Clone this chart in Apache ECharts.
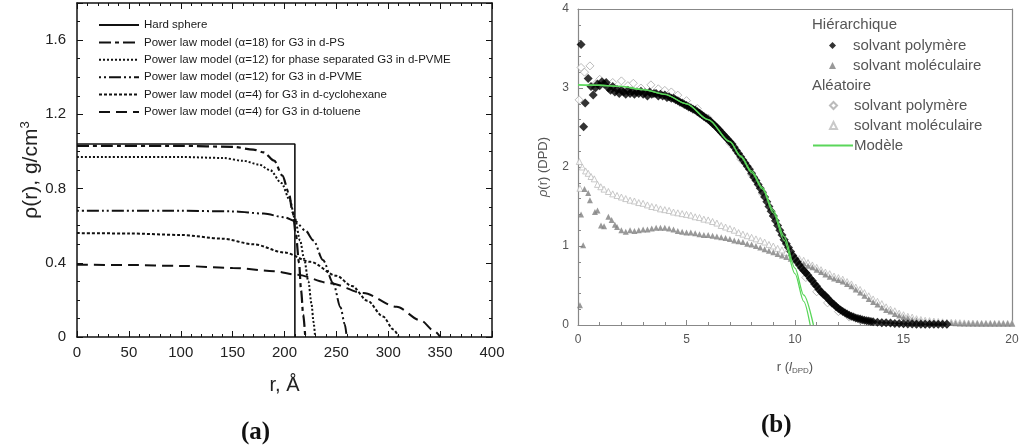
<!DOCTYPE html>
<html>
<head>
<meta charset="utf-8">
<script src="https://cdn.jsdelivr.net/npm/echarts@6/dist/echarts.min.js"></script>
<style>
  html, body { margin: 0; padding: 0; background: #fff; }
  #chart { width: 1026px; height: 447px; }
</style>
</head>
<body>
<div id="chart"></div>
<script>
// ---- panel (a): density profiles rho(r), r in Angstrom ----
const hardSphere = [[0, 1.04], [210, 1.04], [210, 0]]
const psAlpha18 = [[0, 1.03], [100, 1.03], [150, 1.025], [170, 1.01], [180, 0.995], [190, 0.95], [198, 0.87],
  [204, 0.78], [208, 0.67], [211, 0.55], [214, 0.4], [216, 0.25], [218, 0.12], [220, 0]]
const pvmeSepAlpha12 = [[0, 0.97], [100, 0.97], [140, 0.965], [160, 0.95], [175, 0.93], [186, 0.9], [197, 0.83],
  [205, 0.74], [210, 0.64], [215, 0.52], [219, 0.42], [223, 0.3], [226, 0.18], [228, 0.08], [229.5, 0]]
const pvmeAlpha12 = [[0, 0.68], [100, 0.68], [150, 0.677], [180, 0.665], [200, 0.645], [210, 0.625], [220, 0.575],
  [228, 0.52], [237, 0.415], [247, 0.29], [254, 0.16], [258, 0.07], [260, 0]]
const cyclohexaneAlpha4 = [[0, 0.56], [50, 0.558], [100, 0.55], [140, 0.53], [170, 0.5], [200, 0.455], [225, 0.405],
  [250, 0.33], [265, 0.275], [280, 0.195], [295, 0.11], [305, 0.04], [310, 0]]
const tolueneAlpha4 = [[0, 0.39], [50, 0.388], [100, 0.383], [150, 0.372], [190, 0.355], [212, 0.335], [244, 0.29],
  [276, 0.237], [308, 0.163], [331, 0.09], [345, 0.03], [350, 0]]
const namesA = [
  'Hard sphere',
  'Power law model (α=18) for G3 in d-PS',
  'Power law model (α=12) for phase separated G3 in d-PVME',
  'Power law model (α=12) for G3 in d-PVME',
  'Power law model (α=4) for G3 in d-cyclohexane',
  'Power law model (α=4) for G3 in d-toluene',
]

// ---- panel (b): rho(r) in DPD units ----
const hierPoly = [[0.14, 3.55], [0.26, 2.51], [0.33, 2.81], [0.47, 3.12], [0.6, 3.02], [0.7, 2.91], [0.8, 3.0],
  [0.9, 3.05], [1.0, 3.03], [1.1, 3.08], [1.2, 3.05], [1.3, 3.07], [1.4, 3.0], [1.5, 2.97], [1.6, 3.02], [1.7, 2.95],
  [1.8, 2.98], [1.9, 2.93], [2.0, 2.97], [2.1, 2.95], [2.2, 2.92], [2.3, 2.97], [2.4, 2.93], [2.5, 2.96], [2.6, 2.92],
  [2.7, 2.95], [2.8, 2.93], [2.9, 2.96], [3.0, 2.92], [3.1, 2.94], [3.2, 2.9], [3.3, 2.95], [3.4, 2.92], [3.5, 2.93],
  [3.6, 2.93], [3.7, 2.9], [3.8, 2.92], [3.9, 2.9], [4.0, 2.91], [4.1, 2.88], [4.2, 2.89], [4.3, 2.87], [4.4, 2.87],
  [4.5, 2.85], [4.6, 2.84], [4.7, 2.82], [4.8, 2.81], [4.9, 2.79], [5.0, 2.78], [5.1, 2.76], [5.2, 2.75], [5.3, 2.73],
  [5.4, 2.72], [5.5, 2.7], [5.6, 2.68], [5.7, 2.66], [5.8, 2.64], [5.9, 2.62], [6.0, 2.6], [6.1, 2.58], [6.2, 2.55],
  [6.3, 2.53], [6.4, 2.5], [6.5, 2.47], [6.6, 2.44], [6.7, 2.41], [6.8, 2.38], [6.9, 2.35], [7.0, 2.32], [7.1, 2.29],
  [7.2, 2.25], [7.3, 2.21], [7.4, 2.17], [7.5, 2.13], [7.6, 2.09], [7.7, 2.05], [7.8, 2.01], [7.9, 1.97], [8.0, 1.92],
  [8.1, 1.87], [8.2, 1.83], [8.3, 1.78], [8.4, 1.73], [8.5, 1.68], [8.6, 1.62], [8.7, 1.56], [8.8, 1.5], [8.9, 1.44],
  [9.0, 1.38], [9.1, 1.32], [9.2, 1.26], [9.3, 1.2], [9.4, 1.14], [9.5, 1.08], [9.6, 1.03], [9.7, 0.98], [9.8, 0.93],
  [9.9, 0.88], [10.0, 0.84], [10.1, 0.8], [10.2, 0.76], [10.3, 0.72], [10.4, 0.69], [10.5, 0.66], [10.6, 0.63],
  [10.7, 0.59], [10.8, 0.56], [10.9, 0.52], [11.0, 0.49], [11.1, 0.45], [11.2, 0.42], [11.3, 0.39], [11.4, 0.37],
  [11.5, 0.34], [11.6, 0.31], [11.7, 0.28], [11.8, 0.26], [11.9, 0.23], [12.0, 0.21], [12.1, 0.19], [12.2, 0.17],
  [12.3, 0.155], [12.4, 0.14], [12.5, 0.125], [12.6, 0.11], [12.7, 0.1], [12.8, 0.09], [12.9, 0.082], [13.0, 0.075],
  [13.1, 0.068], [13.2, 0.06], [13.3, 0.055], [13.4, 0.05], [13.5, 0.045], [13.6, 0.04], [13.8, 0.035], [14.0, 0.03],
  [14.2, 0.027], [14.4, 0.024], [14.6, 0.02], [14.8, 0.018], [15.0, 0.015], [15.2, 0.014], [15.4, 0.012],
  [15.6, 0.011], [15.8, 0.01], [16.0, 0.01], [16.2, 0.01], [16.4, 0.01], [16.6, 0.01], [16.8, 0.01], [17.0, 0.01]]
const hierMol = [[0.09, 0.25], [0.24, 1.01], [0.14, 1.4], [0.3, 1.72], [0.47, 1.67], [0.55, 1.58], [0.78, 1.43],
  [0.9, 1.45], [1.06, 1.26], [1.2, 1.25], [1.4, 1.37], [1.55, 1.33], [1.7, 1.27], [1.8, 1.24], [2.0, 1.2], [2.2, 1.18],
  [2.4, 1.2], [2.6, 1.19], [2.8, 1.2], [3.0, 1.21], [3.2, 1.21], [3.4, 1.22], [3.6, 1.23], [3.8, 1.23], [4.0, 1.23],
  [4.2, 1.22], [4.4, 1.21], [4.6, 1.19], [4.8, 1.18], [5.0, 1.17], [5.2, 1.17], [5.4, 1.16], [5.6, 1.15], [5.8, 1.14],
  [6.0, 1.14], [6.2, 1.13], [6.4, 1.12], [6.6, 1.11], [6.8, 1.1], [7.0, 1.09], [7.2, 1.07], [7.4, 1.06], [7.6, 1.05],
  [7.8, 1.03], [8.0, 1.02], [8.2, 1.0], [8.4, 0.98], [8.6, 0.96], [8.8, 0.94], [9.0, 0.92], [9.2, 0.9], [9.4, 0.88],
  [9.6, 0.86], [9.8, 0.84], [10.0, 0.82], [10.2, 0.8], [10.4, 0.78], [10.6, 0.75], [10.8, 0.73], [11.0, 0.7],
  [11.2, 0.67], [11.4, 0.64], [11.6, 0.61], [11.8, 0.59], [12.0, 0.57], [12.2, 0.55], [12.4, 0.52], [12.6, 0.49],
  [12.8, 0.45], [13.0, 0.41], [13.2, 0.37], [13.4, 0.33], [13.6, 0.29], [13.8, 0.26], [14.0, 0.22], [14.2, 0.19],
  [14.4, 0.17], [14.6, 0.14], [14.8, 0.12], [15.0, 0.1], [15.2, 0.09], [15.4, 0.07], [15.6, 0.06], [15.8, 0.05],
  [16.0, 0.04], [16.2, 0.038], [16.4, 0.035], [16.6, 0.032], [16.8, 0.03], [17.0, 0.027], [17.2, 0.025],
  [17.4, 0.022], [17.6, 0.02], [17.8, 0.02], [18.0, 0.02], [18.2, 0.02], [18.4, 0.02], [18.6, 0.02], [18.8, 0.02],
  [19.0, 0.02], [19.2, 0.02], [19.4, 0.02], [19.6, 0.02], [19.8, 0.02], [20.0, 0.02]]
const randPoly = [[0.05, 2.85], [0.14, 3.26], [0.3, 3.2], [0.55, 3.28], [0.8, 3.05], [1.0, 3.11], [1.3, 3.05],
  [1.6, 3.07], [2.0, 3.09], [2.3, 3.03], [2.55, 3.06], [2.9, 3.0], [3.36, 3.04], [3.7, 2.99], [4.0, 2.97], [4.3, 2.95],
  [4.6, 2.91], [5.0, 2.84], [5.5, 2.74], [6.0, 2.62], [6.5, 2.47], [7.0, 2.3], [7.5, 2.1], [8.0, 1.9], [8.5, 1.66],
  [9.0, 1.38], [9.5, 1.08], [10.0, 0.82], [10.5, 0.6], [11.0, 0.42], [11.5, 0.28], [12.0, 0.17], [12.5, 0.1],
  [13.0, 0.06], [14.0, 0.03], [15.0, 0.02], [16.0, 0.01], [17.0, 0.01]]
const randMol = [[0.06, 2.07], [0.09, 1.73], [0.2, 2.0], [0.35, 1.95], [0.47, 1.92], [0.6, 1.88], [0.75, 1.85],
  [0.9, 1.78], [1.05, 1.75], [1.2, 1.72], [1.4, 1.69], [1.6, 1.66], [1.8, 1.64], [2.0, 1.62], [2.2, 1.6], [2.4, 1.58],
  [2.6, 1.57], [2.8, 1.55], [3.0, 1.54], [3.2, 1.52], [3.4, 1.5], [3.6, 1.49], [3.8, 1.47], [4.0, 1.46], [4.2, 1.45],
  [4.4, 1.43], [4.6, 1.42], [4.8, 1.41], [5.0, 1.4], [5.2, 1.39], [5.4, 1.37], [5.6, 1.36], [5.8, 1.34], [6.0, 1.33],
  [6.2, 1.31], [6.4, 1.29], [6.6, 1.26], [6.8, 1.24], [7.0, 1.22], [7.2, 1.2], [7.4, 1.17], [7.6, 1.15], [7.8, 1.13],
  [8.0, 1.11], [8.2, 1.09], [8.4, 1.07], [8.6, 1.05], [8.8, 1.02], [9.0, 1.0], [9.2, 0.97], [9.4, 0.95], [9.6, 0.92],
  [9.8, 0.9], [10.0, 0.87], [10.2, 0.84], [10.4, 0.82], [10.6, 0.79], [10.8, 0.76], [11.0, 0.73], [11.2, 0.7],
  [11.4, 0.67], [11.6, 0.65], [11.8, 0.62], [12.0, 0.6], [12.2, 0.58], [12.4, 0.55], [12.6, 0.52], [12.8, 0.48],
  [13.0, 0.45], [13.2, 0.41], [13.4, 0.37], [13.6, 0.33], [13.8, 0.3], [14.0, 0.27], [14.2, 0.23], [14.4, 0.2],
  [14.6, 0.18], [14.8, 0.15], [15.0, 0.13], [15.2, 0.11], [15.4, 0.1], [15.6, 0.08], [15.8, 0.07], [16.0, 0.06],
  [16.2, 0.055], [16.4, 0.05], [16.6, 0.045], [16.8, 0.04], [17.0, 0.037], [17.2, 0.035], [17.4, 0.032], [17.6, 0.03],
  [17.8, 0.027], [18.0, 0.025], [18.2, 0.024], [18.4, 0.022], [18.6, 0.02], [18.8, 0.02], [19.0, 0.02], [19.2, 0.02],
  [19.4, 0.02], [19.6, 0.02], [19.8, 0.02], [20.0, 0.02]]
const modelA = [[0, 3.04], [1, 3.035], [2, 3.02], [3, 2.98], [4, 2.92], [5, 2.8], [6, 2.6], [7, 2.32], [7.5, 2.13],
  [8, 1.93], [8.5, 1.72], [9, 1.42], [9.5, 1.07], [10, 0.65], [10.4, 0.3], [10.7, 0]]
const modelB = [[0, 3.04], [1, 3.035], [2, 3.02], [3, 2.98], [4, 2.92], [5, 2.8], [6, 2.6], [7, 2.32], [7.5, 2.14],
  [8, 1.95], [8.5, 1.74], [9, 1.45], [9.5, 1.12], [10, 0.72], [10.4, 0.38], [10.85, 0]]

const HP = 'Hiérarchique – solvant polymère'
const HM = 'Hiérarchique – solvant moléculaire'
const RP = 'Aléatoire – solvant polymère'
const RM = 'Aléatoire – solvant moléculaire'
const MODEL = 'Modèle'

const chart = echarts.init(document.getElementById('chart'), null, { renderer: 'canvas' })

const sans = 'Liberation Sans, Arial, sans-serif'

function lineA(name, data, type, width, smooth) {
  return {
    name: name, type: 'line', xAxisIndex: 0, yAxisIndex: 0, data: data,
    showSymbol: false, symbol: 'none', smooth: smooth, smoothMonotone: 'x',
    itemStyle: { color: '#111' },
    lineStyle: { color: '#111', width: width, type: type },
  }
}

// extra axes used only to close the frame (top / right)
function frameAxis(grid, pos, extra) {
  return Object.assign({
    type: 'value', gridIndex: grid, position: pos,
    axisLabel: { show: false }, splitLine: { show: false },
  }, extra)
}

const axA = { onZero: false, lineStyle: { color: '#111', width: 1.5 } }
const tickA = { inside: true, length: 6, lineStyle: { color: '#111' } }
const minorA = (n) => ({ show: true, splitNumber: n, length: 3, lineStyle: { color: '#111' } })

const axB = { onZero: false, lineStyle: { color: '#888', width: 1.2 } }
const tickB = { inside: true, length: 5, lineStyle: { color: '#888' } }
const minorB = { show: true, splitNumber: 5, length: 3, lineStyle: { color: '#888' } }

// small symbol legends for panel (b): icon centred at x≈833, text starting at x≈853
function legendB(names, top) {
  return {
    data: names, orient: 'vertical', left: 829, top: top, padding: 0,
    itemWidth: 7, itemHeight: 7, itemGap: 5, selectedMode: false,
    formatter: (n) => n.split(' – ')[1],
    textStyle: { fontSize: 15, color: '#555', fontFamily: sans, padding: [0, 0, 0, 12] },
  }
}

const option = {
  backgroundColor: '#fff',
  animation: false,
  textStyle: { fontFamily: sans },
  grid: [
    { left: 77, top: 3, width: 415, height: 334 },
    { left: 578, top: 9, width: 434, height: 316 },
  ],
  xAxis: [
    {
      type: 'value', gridIndex: 0, min: 0, max: 400, interval: 50,
      axisLine: axA, axisTick: tickA, minorTick: minorA(5), splitLine: { show: false },
      axisLabel: { fontSize: 15, color: '#222', margin: 8 },
      name: 'r, Å', nameLocation: 'middle', nameGap: 38,
      nameTextStyle: { fontSize: 20, color: '#222' },
    },
    frameAxis(0, 'top', { min: 0, max: 400, interval: 50, axisLine: axA, axisTick: tickA, minorTick: minorA(5) }),
    {
      type: 'value', gridIndex: 1, min: 0, max: 20, interval: 5,
      axisLine: axB, axisTick: tickB, minorTick: minorB, splitLine: { show: false },
      axisLabel: { fontSize: 12, color: '#555', margin: 9 },
      name: '{n|r (}{i|l}{s|DPD}{n|)}', nameLocation: 'middle', nameGap: 34,
      nameTextStyle: {
        rich: {
          n: { fontSize: 13, color: '#555' },
          i: { fontSize: 13, color: '#555', fontStyle: 'italic' },
          s: { fontSize: 8, color: '#555', padding: [8, 0, 0, 0] },
        },
      },
    },
    frameAxis(1, 'top', { min: 0, max: 20, axisLine: axB, axisTick: { show: false } }),
  ],
  yAxis: [
    {
      type: 'value', gridIndex: 0, min: 0, max: 1.8, interval: 0.4,
      axisLine: axA, axisTick: tickA, minorTick: minorA(4), splitLine: { show: false },
      axisLabel: {
        fontSize: 15, color: '#222', margin: 11, showMaxLabel: false,
        formatter: (v) => (v === 0 ? '0' : v.toFixed(1)),
      },
      name: '{n|ρ(r), g/cm}{u|3}', nameLocation: 'middle', nameGap: 33,
      nameTextStyle: {
        rich: {
          n: { fontSize: 21, color: '#222' },
          u: { fontSize: 13, color: '#222', padding: [0, 0, 10, 0] },
        },
      },
    },
    frameAxis(0, 'right', { min: 0, max: 1.8, interval: 0.4, axisLine: axA, axisTick: tickA, minorTick: minorA(4) }),
    {
      type: 'value', gridIndex: 1, min: 0, max: 4, interval: 1,
      axisLine: axB, axisTick: tickB, minorTick: minorB, splitLine: { show: false },
      axisLabel: { fontSize: 12, color: '#555', margin: 9 },
      name: '{i|ρ}{n|(r) (DPD)}', nameLocation: 'middle', nameGap: 28,
      nameTextStyle: {
        rich: {
          n: { fontSize: 13, color: '#555' },
          i: { fontSize: 13, color: '#555', fontStyle: 'italic' },
        },
      },
    },
    frameAxis(1, 'right', { min: 0, max: 4, axisLine: axB, axisTick: { show: false } }),
  ],
  legend: [
    {
      data: namesA, orient: 'vertical', left: 98, top: 19, padding: 0,
      itemWidth: 40, itemHeight: 11, itemGap: 5.4, selectedMode: false,
      itemStyle: { opacity: 0 },
      textStyle: { fontSize: 11.5, color: '#1a1a1a', fontFamily: sans },
    },
    legendB([HP, HM], 38),
    legendB([RP, RM], 98),
    {
      data: [MODEL], orient: 'vertical', left: 812, top: 138, padding: 0,
      itemWidth: 40, itemHeight: 7, selectedMode: false,
      itemStyle: { opacity: 0 },
      textStyle: { fontSize: 15, color: '#555', fontFamily: sans, padding: [0, 0, 0, -4] },
    },
  ],
  graphic: [
    { type: 'text', left: 812, top: 17, style: { text: 'Hiérarchique', fontSize: 15, fill: '#555', fontFamily: sans } },
    { type: 'text', left: 812, top: 78, style: { text: 'Aléatoire', fontSize: 15, fill: '#555', fontFamily: sans } },
    { type: 'text', left: 241, top: 420, style: { text: '(a)', fontSize: 25, fontWeight: 'bold', fill: '#111', fontFamily: 'Liberation Serif, serif' } },
    { type: 'text', left: 761, top: 413, style: { text: '(b)', fontSize: 25, fontWeight: 'bold', fill: '#111', fontFamily: 'Liberation Serif, serif' } },
  ],
  series: [
    lineA(namesA[0], hardSphere, 'solid', 1.6, false),
    lineA(namesA[1], psAlpha18, [12, 4, 4, 4], 2.2, 0.3),
    lineA(namesA[2], pvmeSepAlpha12, [2, 2], 2, 0.3),
    lineA(namesA[3], pvmeAlpha12, [2, 3, 2, 3, 12, 3], 2, 0.3),
    lineA(namesA[4], cyclohexaneAlpha4, [3, 2], 2, 0.3),
    lineA(namesA[5], tolueneAlpha4, [11, 6], 2, 0.3),
    {
      name: RM, type: 'scatter', xAxisIndex: 2, yAxisIndex: 2, data: randMol,
      symbol: 'triangle', symbolSize: 6,
      itemStyle: { color: '#fff', borderColor: '#bbb', borderWidth: 1 },
    },
    {
      name: HM, type: 'scatter', xAxisIndex: 2, yAxisIndex: 2, data: hierMol,
      symbol: 'triangle', symbolSize: 6,
      itemStyle: { color: '#808080' },
    },
    {
      name: RP, type: 'scatter', xAxisIndex: 2, yAxisIndex: 2, data: randPoly,
      symbol: 'diamond', symbolSize: 8,
      itemStyle: { color: '#fff', borderColor: '#aaa', borderWidth: 1 },
    },
    {
      name: HP, type: 'scatter', xAxisIndex: 2, yAxisIndex: 2, data: hierPoly,
      symbol: 'diamond', symbolSize: 9,
      itemStyle: { color: '#000' },
    },
    {
      name: MODEL, type: 'line', xAxisIndex: 2, yAxisIndex: 2, data: modelA,
      symbol: 'none', smooth: 0.3, smoothMonotone: 'x',
      itemStyle: { color: '#5ad65a' },
      lineStyle: { color: '#5ad65a', width: 1.3 },
    },
    {
      name: MODEL, type: 'line', xAxisIndex: 2, yAxisIndex: 2, data: modelB,
      symbol: 'none', smooth: 0.3, smoothMonotone: 'x',
      itemStyle: { color: '#5ad65a' },
      lineStyle: { color: '#5ad65a', width: 1.3 },
    },
  ],
}

chart.setOption(option)
</script>
</body>
</html>
